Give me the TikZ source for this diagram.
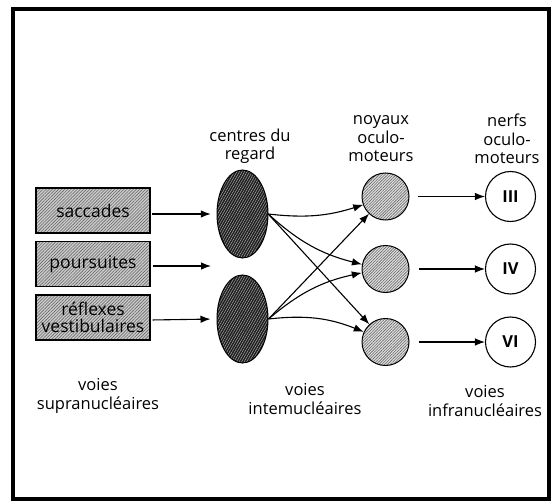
\documentclass[tikz,border=0pt]{standalone}
\usepackage{fontspec}
\setmainfont{Open Sans}
\usetikzlibrary{patterns.meta,arrows.meta,shapes.geometric}
\begin{document}
\begin{tikzpicture}[x=1pt,y=-1pt,
  txt/.style={font=\fontsize{16.5}{18.5}\selectfont, align=center, inner sep=0pt},
  srcbox/.style={draw, line width=1.2pt, minimum width=114pt, minimum height=45pt, inner sep=0pt,
    preaction={fill=gray!40},
    pattern={Lines[angle=45,distance=2.2pt,line width=0.6pt]}, pattern color=black!60,
    font=\fontsize{17.5}{17.5}\selectfont, align=center},
  centre/.style={ellipse, draw, line width=1pt, minimum width=51pt, minimum height=88pt,
    preaction={fill=black!88},
    pattern={Lines[angle=60,distance=2.2pt,line width=0.4pt]}, pattern color=gray!55},
  noyau/.style={circle, draw, line width=1pt, minimum size=47pt, inner sep=0pt,
    preaction={fill=gray!25},
    pattern={Lines[angle=45,distance=2pt,line width=0.6pt]}, pattern color=black!60},
  nerf/.style={circle, draw, line width=1.1pt, minimum size=50pt, inner sep=0pt, fill=white,
    font=\fontsize{16.5}{18}\selectfont\bfseries},
  arr/.style={line width=1.1pt, -{Latex[length=10pt,width=7.5pt]}}
]
\useasboundingbox (0,0) rectangle (552,503);
\draw[line width=3.5pt] (13,9) rectangle (549,499);

% source boxes
\node[srcbox] (sac) at (93,210.5) {saccades};
\node[srcbox] (pou) at (93,264) {poursuites};
\node[srcbox] (ref) at (93,317.5) {réflexes\\vestibulaires};

% gaze centres
\node[centre] (c1) at (242.5,214) {};
\node[centre] (c2) at (242.5,319) {};
\coordinate (pend) at (211,266);

% nuclei
\node[noyau] (n1) at (385.5,196.5) {};
\node[noyau] (n2) at (385.5,269) {};
\node[noyau] (n3) at (385.5,342) {};

% nerves
\node[nerf] (m1) at (510.5,196.5) {III};
\node[nerf] (m2) at (510.5,269) {IV};
\node[nerf] (m3) at (510.5,342) {VI};

% labels
\node[txt] (lc) at (250,146) {centres du\\regard};
\node[txt] (ln) at (381,139) {noyaux\\oculo-\\moteurs};
\node[txt] (lm) at (507,139) {nerfs\\oculo-\\moteurs};
\node[txt] (l1) at (98,396) {voies\\supranucléaires};
\node[txt] (l2) at (305,399) {voies\\intemucléaires};
\node[txt] (l3) at (485,401) {voies\\infranucléaires};

% supranuclear arrows
\draw[arr, shorten <=2pt, shorten >=6pt] (sac.east |- 0,214) -- (c1.west);
\draw[arr, shorten <=2pt] (pou.east |- 0,266) -- (pend);
\draw[arr, shorten <=2pt, shorten >=6pt] (ref.east |- 0,320) -- (c2.west);

% internuclear arrows
\draw[arr] (c1.east) to[bend right=12] (n1);
\draw[arr] (c1.east) to[bend right=14] (n2);
\draw[arr] (c1.east) -- (n3);
\draw[arr] (c2.east) -- (n1);
\draw[arr] (c2.east) to[bend left=14] (n2);
\draw[arr] (c2.east) to[bend left=14] (n3);

% infranuclear arrows
\draw[arr, shorten <=9pt] (n1.east) -- (m1.west);
\draw[arr, shorten <=9pt] (n2.east) -- (m2.west);
\draw[arr, shorten <=9pt] (n3.east) -- (m3.west);
\end{tikzpicture}
\end{document}
